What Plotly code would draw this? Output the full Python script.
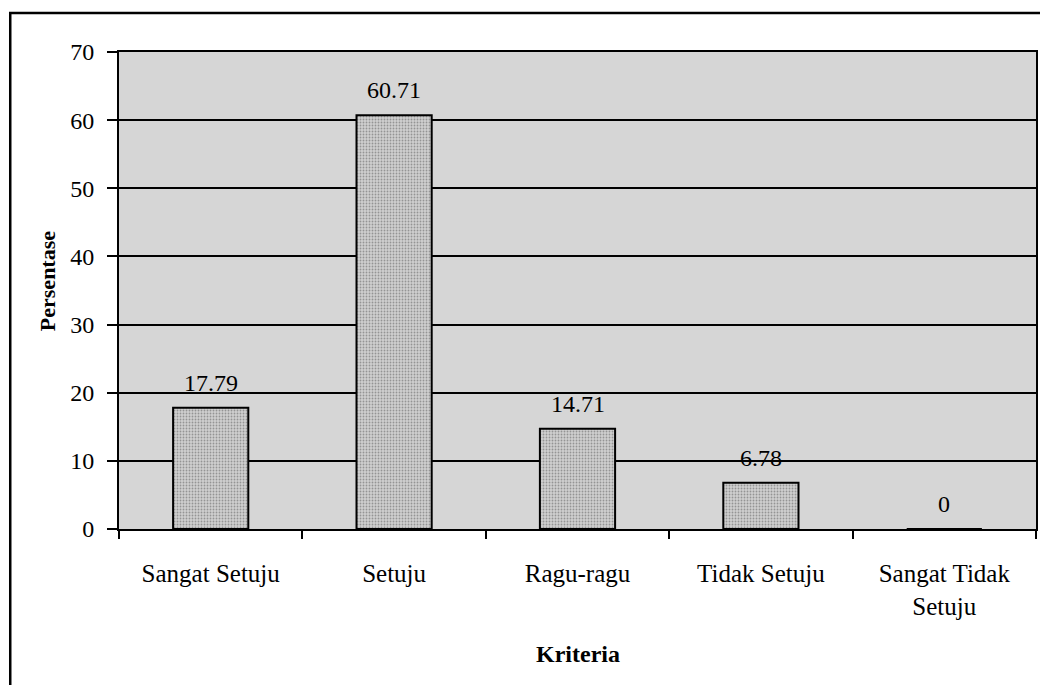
import plotly.graph_objects as go

categories = ["Sangat Setuju", "Setuju", "Ragu-ragu", "Tidak Setuju", "Sangat Tidak<br>Setuju"]
values = [17.79, 60.71, 14.71, 6.78, 0]
value_labels = ["17.79", "60.71", "14.71", "6.78", "0"]
y_ticks = [0, 10, 20, 30, 40, 50, 60, 70]

FONT = "Liberation Serif"
FS = 24

fig = go.Figure()
fig.add_trace(go.Bar(
    x=categories,
    y=values,
    width=0.41,
    marker=dict(
        color="#bdbdbd",
        line=dict(color="black", width=2),
        pattern=dict(shape=".", fgcolor="#5a5a5a", bgcolor="#cfcfcf", size=3, solidity=0.3),
    ),
    hoverinfo="skip",
    showlegend=False,
))

for c, v, t in zip(categories, values, value_labels):
    fig.add_annotation(x=c, y=v, text=t, showarrow=False, yshift=25,
                       yanchor="middle", xanchor="center",
                       font=dict(family=FONT, size=FS, color="black"))

# axis titles
fig.add_annotation(xref="paper", yref="paper", x=0.5, y=-0.262, text="<b>Kriteria</b>",
                   showarrow=False, xanchor="center", yanchor="middle",
                   font=dict(family=FONT, size=24, color="black"))
fig.add_annotation(xref="paper", yref="paper", x=-0.0772, y=0.52, text="<b>Persentase</b>",
                   showarrow=False, textangle=-90, xanchor="center", yanchor="middle",
                   font=dict(family=FONT, size=22, color="black"))

# outer frame (left and top edges visible)
fig.add_shape(type="rect", xref="paper", yref="paper",
              x0=-0.1186, x1=1.2, y0=-0.6, y1=1.0818,
              line=dict(color="black", width=2.5), fillcolor="rgba(0,0,0,0)", layer="above")

fig.update_layout(
    width=1040, height=685,
    margin=dict(l=119, r=2, t=52, b=156),
    paper_bgcolor="white",
    plot_bgcolor="#d6d6d6",
    bargap=0.59,
    font=dict(family=FONT, size=FS, color="black"),
    xaxis=dict(
        type="category",
        tickson="boundaries",
        ticks="outside", ticklen=8, tickwidth=1.5, tickcolor="black",
        showline=True, linecolor="black", linewidth=2, mirror=True,
        showgrid=False,
        ticklabelstandoff=21,
        tickfont=dict(family=FONT, size=25, color="black"),
    ),
    yaxis=dict(
        range=[0, 70],
        tickvals=y_ticks,
        ticks="outside", ticklen=10, tickwidth=1.5, tickcolor="black",
        showline=True, linecolor="black", linewidth=2, mirror=True,
        showgrid=True, gridcolor="black", gridwidth=1.5,
        zeroline=False,
        ticklabelstandoff=8,
        tickfont=dict(family=FONT, size=FS, color="black"),
    ),
)

fig.write_html("out.html")
